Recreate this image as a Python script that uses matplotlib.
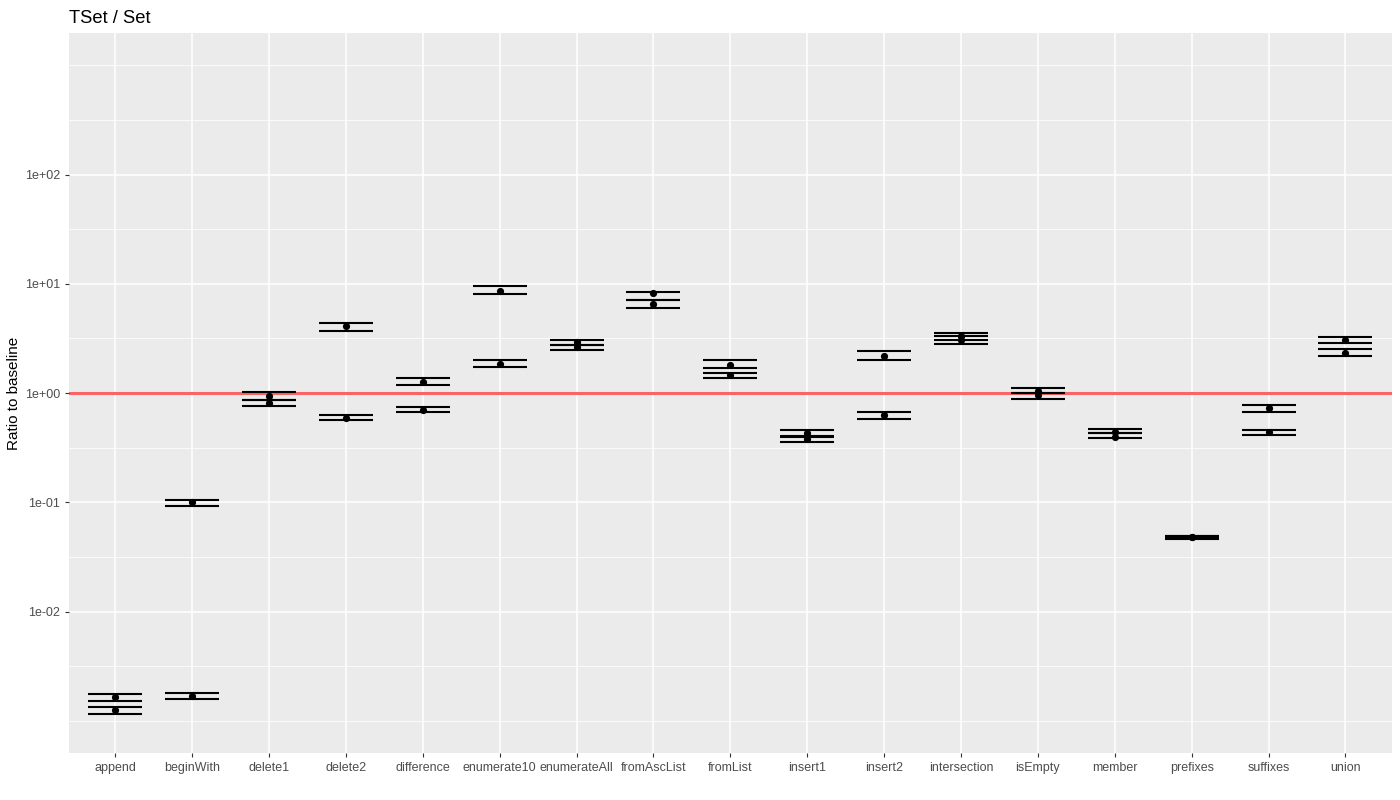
import numpy as np
import matplotlib
matplotlib.use("Agg")
import matplotlib.pyplot as plt

plt.rcParams["font.family"] = ["Liberation Sans", "DejaVu Sans"]

# === Data: ratio to baseline, two runs per benchmark ===
benchmarks = ["append", "beginWith", "delete1", "delete2", "difference",
              "enumerate10", "enumerateAll", "fromAscList", "fromList",
              "insert1", "insert2", "intersection", "isEmpty", "member",
              "prefixes", "suffixes", "union"]

ratio_a = [0.00164, 0.0998, 0.944, 4.07, 1.27, 8.63, 2.93, 8.22, 1.82,
           0.43, 2.19, 3.30, 1.04, 0.44, 0.0482, 0.723, 3.07]
low_a = [0.00152, 0.093, 0.868, 3.72, 1.18, 7.98, 2.75, 7.03, 1.68,
         0.40, 2.02, 3.07, 1.00, 0.427, 0.0468, 0.665, 2.90]
high_a = [0.00177, 0.106, 1.02, 4.42, 1.37, 9.45, 3.09, 8.40, 1.99,
          0.461, 2.42, 3.58, 1.11, 0.469, 0.0496, 0.782, 3.23]

ratio_b = [0.00125, 0.00169, 0.803, 0.59, 0.704, 1.85, 2.62, 6.52, 1.45,
           0.38, 0.624, 3.05, 0.95, 0.40, 0.0479, 0.436, 2.34]
low_b = [0.00116, 0.0016, 0.76, 0.561, 0.665, 1.73, 2.47, 5.94, 1.36,
         0.358, 0.582, 2.83, 0.887, 0.384, 0.0465, 0.413, 2.16]
high_b = [0.00135, 0.00179, 0.868, 0.624, 0.745, 2.0, 2.75, 7.03, 1.53,
          0.401, 0.665, 3.32, 1.0, 0.427, 0.0493, 0.458, 2.51]

baseline = 1.0

# === Plot ===
fig = plt.figure(figsize=(14, 8), dpi=100)
ax = fig.add_axes([0.0493, 0.0584, 0.9447, 0.9006])
ax.set_facecolor("#EBEBEB")

x = np.arange(len(benchmarks))
ax.set_yscale("log")
ax.set_xlim(-0.6, len(benchmarks) - 0.4)
ax.set_ylim(10 ** -3.297, 10 ** 3.297)

# ggplot-like grid
major = [1e-2, 1e-1, 1e0, 1e1, 1e2]
minor = [10 ** (k / 2) for k in range(-6, 7) if k % 2 != 0] + [1e-3, 1e3]
for m in minor:
    ax.axhline(m, color="white", linewidth=0.55, zorder=0)
for m in major:
    ax.axhline(m, color="white", linewidth=1.1, zorder=0)
for xi in x:
    ax.axvline(xi, color="white", linewidth=1.1, zorder=0)

ax.axhline(baseline, color="#F96565", linewidth=2.2, zorder=1)

for ratio, low, high in [(ratio_a, low_a, high_a), (ratio_b, low_b, high_b)]:
    ratio = np.array(ratio)
    yerr = [ratio - np.array(low), np.array(high) - ratio]
    ax.errorbar(x, ratio, yerr=yerr, fmt="none", ecolor="black",
                elinewidth=0, capsize=19.5, capthick=1.5, zorder=2)
    ax.scatter(x, ratio, s=27, color="black", zorder=3, linewidths=0)

ax.set_xticks(x)
ax.set_xticklabels(benchmarks)
ax.set_yticks(major)
ax.set_yticklabels(["1e-02", "1e-01", "1e+00", "1e+01", "1e+02"])
ax.yaxis.set_minor_locator(matplotlib.ticker.NullLocator())
ax.tick_params(axis="both", colors="#333333", labelcolor="#4D4D4D",
               labelsize=9, length=3, width=0.8)
for s in ax.spines.values():
    s.set_visible(False)

ax.set_ylabel("Ratio to baseline", fontsize=11)
ax.yaxis.set_label_coords(-0.0365, 0.5)
ax.set_title("TSet / Set", loc="left", fontsize=13.2, pad=7)

plt.savefig("out.png", dpi=100)
